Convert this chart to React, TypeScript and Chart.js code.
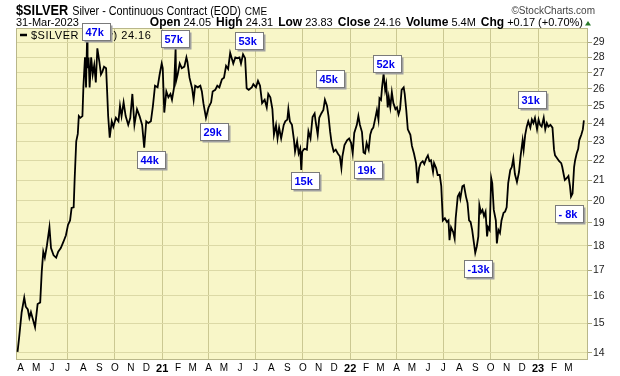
import React, { useEffect, useRef } from "react";
import { Chart, registerables } from "chart.js";

Chart.register(...registerables);

const FONT = '"Liberation Sans", Arial, Helvetica, sans-serif';

// ---- data (days counted from 2020-01-01) ----
const tradeDays = [
  85, 88, 93, 98, 101, 105, 108, 111, 114, 119, 124, 129, 132, 135, 138, 142, 147, 150, 155, 160,
  164, 169, 174, 179, 183, 187, 190, 194, 196, 199, 202, 204, 207, 211, 213, 216, 217, 218, 220, 221,
  223, 225, 228, 231, 234, 237, 240, 244, 247, 250, 253, 257, 259, 261, 264, 268, 271, 276, 281, 284,
  287, 291, 295, 300, 304, 308, 312, 317, 322, 327, 331, 335, 339, 344, 348, 352, 357, 361, 365, 367,
  370, 374, 378, 382, 385, 389, 392, 393, 396, 400, 404, 409, 413, 415, 419, 424, 427, 430, 435, 440,
  443, 446, 451, 456, 461, 464, 469, 473, 477, 482, 486, 490, 494, 498, 501, 504, 508, 512, 516, 519,
  523, 527, 530, 534, 540, 543, 548, 552, 556, 560, 565, 569, 572, 576, 580, 583, 587, 590, 593, 597,
  602, 605, 609, 611, 614, 618, 622, 624, 628, 631, 634, 636, 638, 642, 647, 650, 654, 658, 662, 664,
  668, 671, 675, 679, 682, 686, 689, 692, 695, 699, 703, 707, 711, 714, 716, 720, 725, 729, 733, 736,
  739, 744, 747, 750, 754, 757, 760, 763, 767, 770, 773, 776, 780, 783, 786, 788, 791, 793, 796, 799,
  801, 804, 806, 809, 812, 815, 819, 822, 825, 828, 831, 835, 837, 840, 843, 848, 851, 855, 859, 862,
  865, 868, 872, 875, 879, 882, 885, 888, 892, 894, 898, 901, 905, 908, 911, 915, 919, 922, 924, 927,
  931, 934, 936, 940, 943, 945, 949, 952, 956, 959, 962, 965, 968, 972, 974, 977, 980, 982, 985, 988,
  991, 994, 997, 999, 1002, 1005, 1007, 1010, 1014, 1016, 1019, 1022, 1025, 1029, 1032, 1035, 1038, 1042, 1045, 1048,
  1051, 1055, 1059, 1062, 1066, 1068, 1071, 1074, 1077, 1081, 1084, 1087, 1090, 1094, 1097, 1100, 1103, 1107, 1110, 1113,
  1116, 1120, 1124, 1127, 1129, 1133, 1137, 1141, 1143, 1146, 1148, 1152, 1155, 1158, 1160, 1163, 1166, 1168, 1171, 1174,
  1176, 1180, 1183, 1185,
];

const closePrices = [
  14.03, 14.5, 15.4, 15.94, 15.6, 15.5, 15.2, 15.4, 15.2, 14.87, 15.7, 15.76, 16.94, 17.75, 17.5, 18.0, 18.8, 17.9, 17.6, 17.5,
  17.75, 17.9, 18.16, 18.45, 18.9, 19.1, 19.67, 19.7, 21.1, 23.0, 23.4, 24.4, 24.3, 24.4, 26.2, 28.0, 27.5, 26.1, 29.2, 27.3,
  28.0, 26.1, 28.0, 26.9, 27.5, 26.4, 28.6, 27.7, 26.9, 27.1, 27.4, 27.3, 25.85, 24.4, 23.2, 24.1, 23.8, 24.3, 24.1, 25.0,
  24.4, 25.2, 24.4, 23.9, 24.3, 25.7, 23.9, 24.8, 24.4, 23.9, 22.65, 24.1, 24.0, 24.1, 25.0, 26.2, 26.1, 26.9, 27.6, 27.3,
  24.6, 25.85, 25.5, 25.7, 25.35, 26.1, 28.6, 26.5, 26.9, 27.6, 27.3, 27.4, 28.0, 27.7, 26.7, 26.05, 25.35, 26.2, 26.1, 26.2,
  25.85, 25.15, 24.3, 24.9, 25.2, 25.85, 25.95, 26.2, 26.1, 26.6, 26.7, 27.45, 27.25, 28.3, 27.95, 27.6, 28.0, 27.95, 28.0, 27.6,
  28.2, 27.95, 26.05, 25.95, 26.1, 26.3, 26.1, 26.5, 26.2, 25.15, 25.35, 24.9, 25.7, 25.5, 24.8, 23.35, 23.9, 23.15, 23.75, 23.15,
  23.9, 24.1, 24.2, 24.8, 24.1, 23.9, 23.05, 22.45, 23.0, 22.35, 22.6, 21.5, 22.45, 22.6, 22.55, 23.55, 23.15, 24.35, 24.55, 24.1,
  23.35, 24.3, 24.55, 24.75, 25.35, 25.0, 24.4, 23.55, 22.9, 22.45, 22.55, 22.35, 22.2, 21.6, 22.2, 22.8, 23.05, 23.15, 22.9, 22.35,
  23.45, 23.9, 24.4, 23.9, 23.5, 22.4, 22.35, 22.9, 22.55, 23.35, 23.63, 23.75, 24.3, 24.75, 24.2, 25.45, 25.35, 26.1, 26.95, 25.95,
  26.3, 24.9, 25.5, 24.9, 25.8, 25.15, 24.8, 24.9, 24.5, 24.8, 25.95, 26.1, 25.7, 24.75, 23.65, 23.35, 22.75, 22.35, 21.85, 20.85,
  21.6, 21.85, 21.95, 21.8, 22.1, 22.25, 21.95, 22.0, 21.4, 21.85, 21.6, 21.25, 21.25, 20.7, 19.1, 19.2, 19.03, 19.1, 18.24, 18.8,
  18.6, 18.3, 19.2, 20.2, 20.35, 20.1, 20.7, 20.75, 20.2, 19.9, 19.1, 19.03, 18.68, 18.03, 17.7, 17.97, 18.4, 19.8, 19.45, 19.58,
  19.3, 19.5, 18.4, 18.8, 18.68, 21.1, 20.85, 19.58, 19.1, 18.1, 18.68, 18.55, 19.1, 19.45, 19.5, 19.7, 20.85, 21.5, 21.65, 22.1,
  21.3, 20.9, 21.4, 22.2, 23.05, 22.55, 23.35, 23.8, 24.1, 23.75, 24.2, 24.0, 24.3, 23.65, 24.2, 23.9, 23.8, 24.3, 23.65, 24.0,
  23.8, 23.9, 23.75, 22.55, 22.25, 22.1, 21.95, 21.85, 21.65, 21.25, 21.0, 21.1, 21.2, 20.7, 20.2, 20.35, 21.65, 22.0, 22.35, 22.6,
  23.05, 23.35, 23.65, 24.16,
];

const yTickValues = [14, 15, 16, 17, 18, 19, 20, 21, 22, 23, 24, 25, 26, 27, 28, 29];
const monthTickLabels = [
  "A", "M", "J", "J", "A", "S", "O", "N", "D", "21", "F", "M",
  "A", "M", "J", "J", "A", "S", "O", "N", "D", "22", "F", "M",
  "A", "M", "J", "J", "A", "S", "O", "N", "D", "23", "F", "M",
];

const noteLabels = ["47k", "57k", "53k", "44k", "29k", "15k", "45k", "52k", "19k", "31k", "-13k", "- 8k"];
const noteDays = [238, 391, 535, 344, 467, 643, 691, 802, 765, 1084, 980, 1157];
const notePrices = [29.77, 29.29, 29.15, 22.02, 23.52, 20.97, 26.65, 27.6, 21.54, 25.38, 17.07, 19.43];

const headerSymbol = "$SILVER";
const headerName = "Silver - Continuous Contract (EOD)";
const headerExchange = "CME";
const headerCopyright = "\u00A9StockCharts.com";
const headerDate = "31-Mar-2023";
const quoteLabels = ["Open", "High", "Low", "Close", "Volume", "Chg"];
const quoteValues = ["24.05", "24.31", "23.83", "24.16", "5.4M", "+0.17 (+0.70%)"];
const legendText = "$SILVER (Daily) 24.16";

const X_MIN = 82;
const X_MAX = 1193;
const Y_MIN = 13.8;
const Y_MAX = 30;

const dayOf = (y: number, m: number, d = 1) =>
  Math.round((Date.UTC(y, m, d) - Date.UTC(2020, 0, 1)) / 86400000);
const monthTickValues = monthTickLabels.map((_, i) => dayOf(2020, 3 + i));

const PLOT_BG = "#F8F6C8";
const GRID_H = "#DCD9A6";
const GRID_V = "#CBC892";
const BORDER = "#B9B78A";

const decorPlugin = {
  id: "decor",
  beforeDraw(chart: any) {
    const { ctx, chartArea: a } = chart;
    ctx.save();
    ctx.fillStyle = "#ffffff";
    ctx.fillRect(0, 0, chart.width, chart.height);
    ctx.fillStyle = PLOT_BG;
    ctx.fillRect(a.left, a.top, a.right - a.left, a.bottom - a.top);
    ctx.restore();
  },
  beforeDatasetsDraw(chart: any) {
    const { ctx, chartArea: a } = chart;
    ctx.save();
    ctx.strokeStyle = BORDER;
    ctx.lineWidth = 1;
    ctx.strokeRect(Math.round(a.left) + 0.5, Math.round(a.top) + 0.5, Math.round(a.right - a.left) - 1, Math.round(a.bottom - a.top));
    ctx.restore();
  },
  afterDraw(chart: any) {
    const { ctx } = chart;
    const xs = chart.scales.x;
    const ys = chart.scales.y;
    ctx.save();
    ctx.textBaseline = "alphabetic";
    ctx.fillStyle = "#000";

    // row 1
    ctx.font = `bold 15px ${FONT}`;
    const w1 = ctx.measureText(headerSymbol).width * 0.85;
    ctx.save();
    ctx.translate(16, 15);
    ctx.scale(0.85, 1);
    ctx.fillText(headerSymbol, 0, 0);
    ctx.restore();
    ctx.font = `12px ${FONT}`;
    const w2 = ctx.measureText(headerName).width * 0.9;
    ctx.save();
    ctx.translate(16 + w1 + 4, 15);
    ctx.scale(0.9, 1);
    ctx.fillText(headerName, 0, 0);
    ctx.restore();
    ctx.font = `10px ${FONT}`;
    ctx.fillText(headerExchange, 16 + w1 + 4 + w2 + 4, 15);
    ctx.fillStyle = "#444";
    ctx.textAlign = "right";
    ctx.fillText(headerCopyright, 595, 14);
    ctx.textAlign = "left";

    // row 2
    ctx.fillStyle = "#000";
    ctx.font = `11px ${FONT}`;
    ctx.fillText(headerDate, 16, 26);
    let x = 583;
    for (let i = quoteLabels.length - 1; i >= 0; i--) {
      ctx.font = `11px ${FONT}`;
      const vw = ctx.measureText(quoteValues[i]).width;
      x -= vw;
      ctx.fillText(quoteValues[i], x, 26);
      ctx.font = `bold 12px ${FONT}`;
      const lw = ctx.measureText(quoteLabels[i]).width;
      x -= lw + 3;
      ctx.fillText(quoteLabels[i], x, 26);
      x -= 5;
    }
    ctx.fillStyle = "#2a7a2a";
    ctx.beginPath();
    ctx.moveTo(585, 25.5);
    ctx.lineTo(591, 25.5);
    ctx.lineTo(588, 21);
    ctx.closePath();
    ctx.fill();

    // legend
    ctx.strokeStyle = "#000";
    ctx.lineWidth = 2.5;
    ctx.beginPath();
    ctx.moveTo(20, 35);
    ctx.lineTo(27, 35);
    ctx.stroke();
    ctx.fillStyle = "#000";
    ctx.font = `11px ${FONT}`;
    (ctx as any).letterSpacing = "0.5px";
    ctx.fillText(legendText, 31, 39);
    (ctx as any).letterSpacing = "0px";

    // notes
    const bw = 28;
    const bh = 17;
    for (let i = 0; i < noteLabels.length; i++) {
      const cx = xs.getPixelForValue(noteDays[i]);
      const cy = ys.getPixelForValue(notePrices[i]);
      const l = Math.round(cx - bw / 2) + 0.5;
      const t = Math.round(cy - bh / 2) + 0.5;
      ctx.fillStyle = "#a0a0a0";
      ctx.fillRect(l + 2, t + 2, bw, bh);
      ctx.fillStyle = "#ffffff";
      ctx.fillRect(l, t, bw, bh);
      ctx.strokeStyle = "#7a7a7a";
      ctx.lineWidth = 1;
      ctx.strokeRect(l, t, bw, bh);
      ctx.fillStyle = "#0000ee";
      ctx.font = `bold 11px ${FONT}`;
      ctx.fillText(noteLabels[i], l + 3, t + 12.5);
    }
    ctx.restore();
  },
};

export default function App() {
  const ref = useRef<HTMLCanvasElement | null>(null);
  useEffect(() => {
    document.body.style.margin = "0";
    const canvas = ref.current;
    if (!canvas) return;
    const points = tradeDays.map((d, i) => ({ x: d, y: closePrices[i] }));
    const chart = new Chart(canvas, {
      type: "line",
      data: {
        datasets: [
          {
            data: points,
            borderColor: "#000",
            borderWidth: 1.8,
            pointRadius: 0,
            tension: 0,
            fill: false,
          },
        ],
      },
      options: {
        responsive: false,
        animation: false,
        events: [],
        layout: { padding: { left: 16, top: 28, right: 0, bottom: 0 } },
        plugins: { legend: { display: false }, tooltip: { enabled: false } },
        scales: {
          x: {
            type: "linear",
            position: "bottom",
            min: X_MIN,
            max: X_MAX,
            afterBuildTicks: (s: any) => {
              s.ticks = monthTickValues.map((v) => ({ value: v }));
            },
            afterFit: (s: any) => {
              s.height = 17;
            },
            ticks: {
              autoSkip: false,
              maxRotation: 0,
              minRotation: 0,
              padding: 3,
              color: "#000",
              font: (c: any) => {
                const lab = monthTickLabels[c.index] || "";
                return lab.length > 1
                  ? { family: FONT, size: 11, weight: "bold" }
                  : { family: FONT, size: 10, weight: "normal" };
              },
              callback: (_v: any, i: number) => monthTickLabels[i],
            },
            grid: {
              drawTicks: false,
              lineWidth: 1,
              color: (c: any) => {
                const i = c.index;
                return i > 0 && i % 3 === 0 ? GRID_V : "rgba(0,0,0,0)";
              },
            },
            border: { display: false },
          },
          y: {
            type: "logarithmic",
            position: "right",
            min: Y_MIN,
            max: Y_MAX,
            afterBuildTicks: (s: any) => {
              s.ticks = yTickValues.map((v) => ({ value: v }));
            },
            afterFit: (s: any) => {
              s.width = 32;
            },
            ticks: {
              autoSkip: false,
              padding: 1,
              color: "#222",
              font: { family: FONT, size: 10.5 },
              callback: (v: any) => String(v),
            },
            grid: {
              color: GRID_H,
              tickColor: "#A9A77C",
              tickLength: 4,
              lineWidth: 1,
            },
            border: { display: false },
          },
        },
      },
      plugins: [decorPlugin],
    });
    return () => chart.destroy();
  }, []);
  return (
    <div style={{ width: 620, height: 376 }}>
      <canvas ref={ref} width={620} height={376} style={{ display: "block" }} />
    </div>
  );
}
